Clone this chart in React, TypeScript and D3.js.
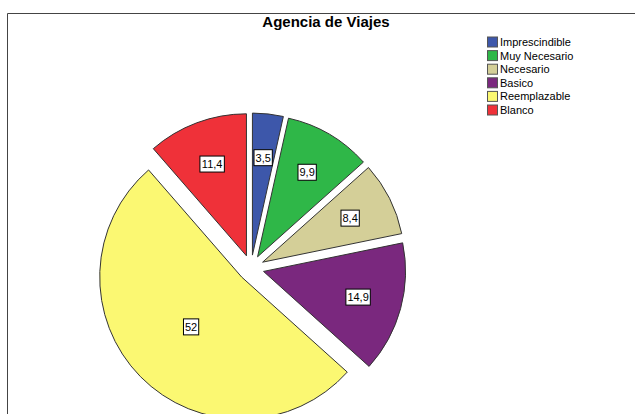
import React from 'react';
import * as d3 from 'd3';

const categories = ['Imprescindible', 'Muy Necesario', 'Necesario', 'Basico', 'Reemplazable', 'Blanco'];
const values = [3.5, 9.9, 8.4, 14.9, 52, 11.4];
const colors = ['#3D57AA', '#2FB748', '#D4CF98', '#7A287E', '#FBF872', '#EF3139'];
const title = 'Agencia de Viajes';

const W = 635, H = 414;
const cx = 251, cy = 268, R = 142, explode = 13;
const font = 'Arial, "Liberation Sans", sans-serif';

const charW = (s: string) =>
  s.split('').reduce((a, c) => a + (c === ',' ? 3.06 : 6.12), 0);

export default function App() {
  const pie = d3.pie<number>().sort(null).value(d => d)(values);
  const arc = d3.arc<d3.PieArcDatum<number>>().innerRadius(0).outerRadius(R);
  return (
    <svg width={W} height={H} style={{ position: 'absolute', left: 0, top: 0 }}>
      <rect x={0} y={0} width={W} height={H} fill="#fff" />
      <path d={`M7.5,${H + 2} V13.5 H${W + 2}`} fill="none" stroke="#444" strokeWidth={1} />
      <text x={326} y={27} textAnchor="middle" fontFamily={font} fontWeight="bold" fontSize={15} fill="#000">
        {title}
      </text>
      {pie.map((p, i) => {
        const mid = (p.startAngle + p.endAngle) / 2;
        const ox = cx + explode * Math.sin(mid);
        const oy = cy - explode * Math.cos(mid);
        const lr = values[i] > 50 ? R * 0.5 : R * 0.69;
        const lx = ox + lr * Math.sin(mid);
        const ly = oy - lr * Math.cos(mid);
        const label = String(values[i]).replace('.', ',');
        const bw = charW(label) + 3;
        const bh = 16;
        return (
          <g key={i}>
            <path d={arc(p) || ''} transform={`translate(${ox},${oy})`} fill={colors[i]} stroke="#333" strokeWidth={1} />
            <rect x={lx - bw / 2} y={ly - bh / 2} width={bw} height={bh} fill="#fff" stroke="#000" strokeWidth={1} />
            <text x={lx} y={ly} dy="0.36em" textAnchor="middle" fontFamily={font} fontSize={11} fill="#000">
              {label}
            </text>
          </g>
        );
      })}
      {categories.map((c, i) => {
        const y = 42 + i * 13.6;
        return (
          <g key={c}>
            <rect x={487.5} y={y - 5} width={10} height={10} fill={colors[i]} stroke="#555" strokeWidth={1} />
            <text x={500} y={y} dy="0.36em" fontFamily={font} fontSize={11} fill="#000">
              {c}
            </text>
          </g>
        );
      })}
    </svg>
  );
}
